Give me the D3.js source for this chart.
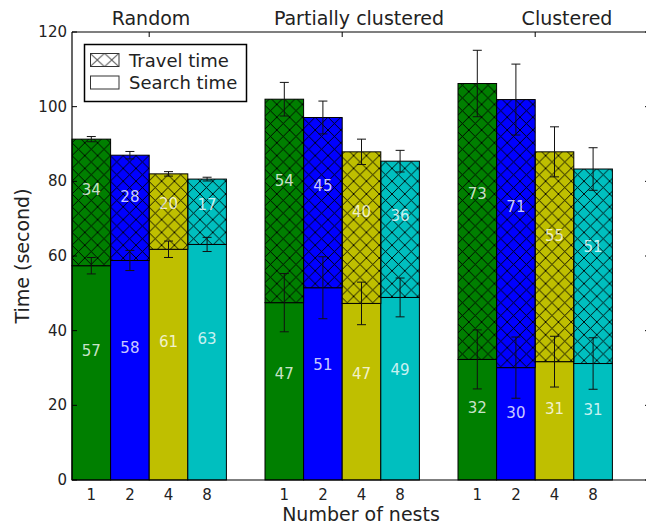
<!DOCTYPE html>
<html>
<head>
<meta charset="utf-8">
<script src="https://cdn.jsdelivr.net/npm/d3@7"></script>
<style>
  html, body { margin: 0; padding: 0; background: #fff; }
  svg { display: block; font-family: "DejaVu Sans", sans-serif; }
</style>
</head>
<body>
<svg id="chart" width="646" height="525"></svg>
<script>
// ---- data ----
const groups = ["Random", "Partially clustered", "Clustered"];
const nests = ["1", "2", "4", "8"];
const barColors = ["#007f00", "#0000ff", "#bfbf00", "#00bfbf"];
const searchTime = [[57.4, 58.8, 61.8, 63.1], [47.5, 51.5, 47.3, 48.9], [32.3, 30.1, 31.7, 31.2]];
const travelTime = [[33.9, 28.2, 20.2, 17.5], [54.5, 45.6, 40.6, 36.5], [73.9, 71.8, 56.2, 52.1]];
const searchErr = [[2.2, 2.7, 2.2, 1.9], [7.8, 8.3, 5.7, 5.2], [7.9, 8.2, 6.8, 6.9]];
const totalErr = [[0.7, 1.0, 0.6, 0.5], [4.5, 4.4, 3.4, 2.9], [8.9, 9.5, 6.7, 5.7]];
const searchLabels = [[57, 58, 61, 63], [47, 51, 47, 49], [32, 30, 31, 31]];
const travelLabels = [[34, 28, 20, 17], [54, 45, 40, 36], [73, 71, 55, 51]];
const yTicks = [0, 20, 40, 60, 80, 100, 120];
const legendLabels = ["Travel time", "Search time"];

// ---- layout ----
const svg = d3.select("#chart");
const mLeft = 72, mRight = 651, mTop = 32, mBottom = 480;
const x = d3.scaleLinear().domain([0, 15]).range([mLeft, mRight]);
const y = d3.scaleLinear().domain([0, 120]).range([mBottom, mTop]);
const titleScale = d3.scaleBand().domain(groups).range([47, 671]);

// hatch pattern
const defs = svg.append("defs");
const P = 12.8;
const pat = defs.append("pattern").attr("id", "hatch")
  .attr("patternUnits", "userSpaceOnUse").attr("width", P).attr("height", P)
  .attr("x", mLeft).attr("y", 2);
pat.append("path").attr("d", `M${-P},${-P}L${2*P},${2*P}M${-P},${2*P}L${2*P},${-P}`)
  .attr("stroke", "#000").attr("stroke-width", 0.9).attr("fill", "none");
const pat2 = defs.append("pattern").attr("id", "hatchLegend")
  .attr("patternUnits", "userSpaceOnUse").attr("width", 14.5).attr("height", 13.4)
  .attr("x", 90).attr("y", 53.3);
pat2.append("path").attr("d", "M0,0L14.5,13.4M0,13.4L14.5,0")
  .attr("stroke", "#555").attr("stroke-width", 1).attr("fill", "none");

// flatten
const rows = [];
groups.forEach((g, gi) => nests.forEach((n, i) => {
  rows.push({ gi, i, idx: gi * 5 + i, s: searchTime[gi][i], t: travelTime[gi][i],
    se: searchErr[gi][i], te: totalErr[gi][i], sl: searchLabels[gi][i], tl: travelLabels[gi][i], color: barColors[i] });
}));

const plot = svg.append("g");
// search bars
plot.selectAll("rect.search").data(rows).join("rect").attr("class", "search")
  .attr("x", d => x(d.idx)).attr("width", d => x(d.idx + 1) - x(d.idx))
  .attr("y", d => y(d.s)).attr("height", d => y(0) - y(d.s))
  .attr("fill", d => d.color).attr("stroke", "#000").attr("stroke-width", 1);
// travel bars
plot.selectAll("rect.travel").data(rows).join("rect").attr("class", "travel")
  .attr("x", d => x(d.idx)).attr("width", d => x(d.idx + 1) - x(d.idx))
  .attr("y", d => y(d.s + d.t)).attr("height", d => y(d.s) - y(d.s + d.t))
  .attr("fill", d => d.color);
plot.selectAll("rect.travelh").data(rows).join("rect").attr("class", "travelh")
  .attr("x", d => x(d.idx)).attr("width", d => x(d.idx + 1) - x(d.idx))
  .attr("y", d => y(d.s + d.t)).attr("height", d => y(d.s) - y(d.s + d.t))
  .attr("fill", "url(#hatch)").attr("stroke", "#000").attr("stroke-width", 1);

// error bars
function errBars(cls, val, err) {
  const g = plot.selectAll("g." + cls).data(rows).join("g").attr("class", cls)
    .attr("stroke", "#111").attr("stroke-width", 1);
  const cx = d => x(d.idx + 0.5);
  g.append("line").attr("x1", cx).attr("x2", cx)
    .attr("y1", d => y(val(d) - err(d))).attr("y2", d => y(val(d) + err(d)));
  g.append("line").attr("x1", d => cx(d) - 4.5).attr("x2", d => cx(d) + 4.5)
    .attr("y1", d => y(val(d) + err(d))).attr("y2", d => y(val(d) + err(d)));
  g.append("line").attr("x1", d => cx(d) - 4.5).attr("x2", d => cx(d) + 4.5)
    .attr("y1", d => y(val(d) - err(d))).attr("y2", d => y(val(d) - err(d)));
}
errBars("serr", d => d.s, d => d.se);
errBars("terr", d => d.s + d.t, d => d.te);

// value labels
plot.selectAll("text.sl").data(rows).join("text").attr("class", "sl")
  .attr("x", d => x(d.idx + 0.5)).attr("y", d => y(d.s * 0.6))
  .attr("text-anchor", "middle").attr("dominant-baseline", "central")
  .attr("font-size", 15).attr("fill", "#fff").attr("fill-opacity", 0.8)
  .text(d => d.sl);
plot.selectAll("text.tl").data(rows).join("text").attr("class", "tl")
  .attr("x", d => x(d.idx + 0.5)).attr("y", d => y(d.s + d.t * 0.6))
  .attr("text-anchor", "middle").attr("dominant-baseline", "central")
  .attr("font-size", 15).attr("fill", "#fff").attr("fill-opacity", 0.8)
  .text(d => d.tl);

// axes frame
const frame = svg.append("g").attr("stroke", "#000").attr("stroke-width", 1.2).attr("fill", "none");
frame.append("line").attr("x1", mLeft).attr("x2", mRight).attr("y1", mTop).attr("y2", mTop);
frame.append("line").attr("x1", mLeft).attr("x2", mRight).attr("y1", mBottom).attr("y2", mBottom);
frame.append("line").attr("x1", mLeft).attr("x2", mLeft).attr("y1", mTop).attr("y2", mBottom);
frame.append("line").attr("x1", mRight).attr("x2", mRight).attr("y1", mTop).attr("y2", mBottom);

// y ticks
const yt = svg.append("g");
yt.selectAll("line.l").data(yTicks).join("line").attr("class", "l")
  .attr("x1", mLeft).attr("x2", mLeft + 5).attr("y1", d => y(d)).attr("y2", d => y(d))
  .attr("stroke", "#000").attr("stroke-width", 1);
yt.selectAll("line.r").data(yTicks).join("line").attr("class", "r")
  .attr("x1", mRight - 6).attr("x2", mRight).attr("y1", d => y(d)).attr("y2", d => y(d))
  .attr("stroke", "#000").attr("stroke-width", 1);
yt.selectAll("text").data(yTicks).join("text")
  .attr("x", mLeft - 5).attr("y", d => y(d)).attr("text-anchor", "end")
  .attr("dominant-baseline", "central").attr("font-size", 15).attr("fill", "#222")
  .text(d => d);

// top ticks at group centres
svg.selectAll("line.tt").data(groups).join("line").attr("class", "tt")
  .attr("x1", (d, gi) => x(gi * 5 + 2)).attr("x2", (d, gi) => x(gi * 5 + 2))
  .attr("y1", mTop).attr("y2", mTop + 5).attr("stroke", "#000").attr("stroke-width", 1);

// x tick labels
svg.selectAll("text.xt").data(rows).join("text").attr("class", "xt")
  .attr("x", d => x(d.idx + 0.5)).attr("y", 500)
  .attr("text-anchor", "middle").attr("font-size", 15).attr("fill", "#222")
  .text(d => nests[d.i]);

// group titles
svg.selectAll("text.title").data(groups).join("text").attr("class", "title")
  .attr("x", d => titleScale(d) + titleScale.bandwidth() / 2).attr("y", 25)
  .attr("text-anchor", "middle").attr("font-size", 19).attr("fill", "#222")
  .text(d => d);

// axis labels
svg.append("text").attr("x", 361).attr("y", 521).attr("text-anchor", "middle")
  .attr("font-size", 19).attr("fill", "#222").text("Number of nests");
svg.append("text").attr("transform", "translate(29,256) rotate(-90)")
  .attr("text-anchor", "middle").attr("font-size", 19).attr("fill", "#222").text("Time (second)");

// legend
const lg = svg.append("g");
lg.append("rect").attr("x", 84.5).attr("y", 44.5).attr("width", 162).attr("height", 57)
  .attr("fill", "#fff").attr("stroke", "#000").attr("stroke-width", 1.5);
lg.selectAll("rect.sw").data(legendLabels).join("rect").attr("class", "sw")
  .attr("x", 90.5).attr("y", (d, i) => 53.5 + i * 22.5).attr("width", 28.5).attr("height", 13)
  .attr("fill", (d, i) => i === 0 ? "url(#hatchLegend)" : "#fff")
  .attr("stroke", "#333").attr("stroke-width", 1);
lg.selectAll("text").data(legendLabels).join("text")
  .attr("x", 129).attr("y", (d, i) => 60 + i * 22.5).attr("dominant-baseline", "central")
  .attr("font-size", 18).attr("fill", "#222").text(d => d);
</script>
</body>
</html>
